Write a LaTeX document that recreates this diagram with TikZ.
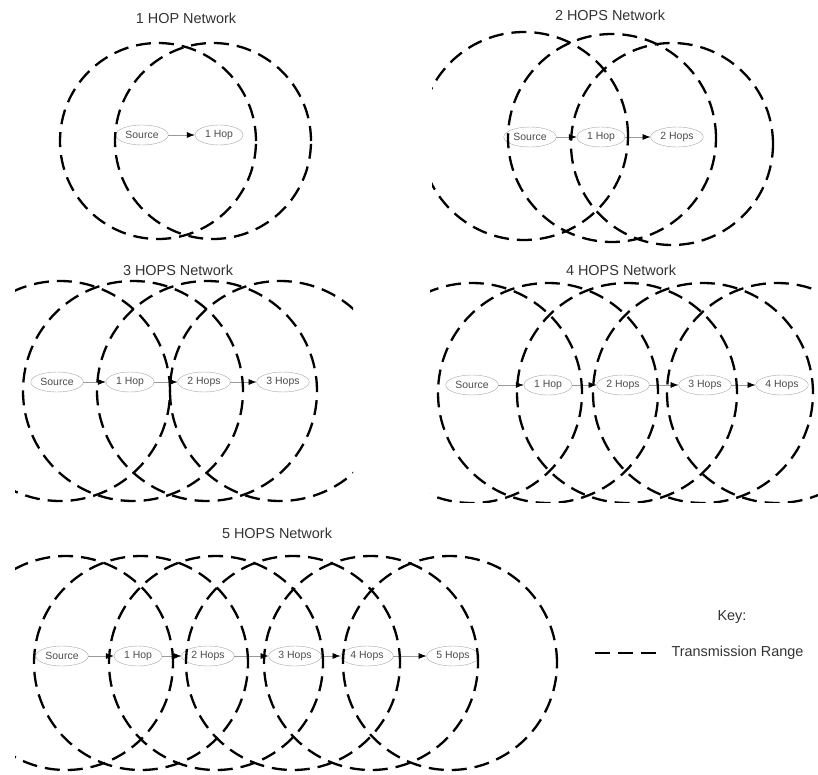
\documentclass[tikz,border=0pt]{standalone}
\usepackage{fontspec}
\setmainfont{Liberation Sans}
\usetikzlibrary{shapes.geometric,arrows.meta}

\begin{document}
\begin{tikzpicture}[x=1bp,y=-1bp,
    txrange/.style={draw=black, line width=2.3bp, dash pattern=on 15bp off 8bp},
    hop/.style={ellipse, draw=gray!70, text=black!70, font=\fontsize{10.5}{12}\selectfont,
      inner xsep=2bp, inner ysep=1bp, minimum width=48bp, minimum height=20bp},
    hoplink/.style={draw=gray!80, line width=0.6bp, -{Latex[length=8bp,width=6bp,color=black]}},
    netlabel/.style={text=black!80, font=\fontsize{14.5}{17}\selectfont}]

    \useasboundingbox (0,0) rectangle (818,775);

    % 1 hop network
    \node[netlabel] (t1) at (186,18) {1 HOP Network};
    \foreach \x/\lbl [count=\i from 0] in {142/Source,219/1 Hop}
      \node[hop] (a\i) at (\x,135) {\lbl};
    \draw[hoplink] (a0) -- (a1);
    \foreach \x in {158,213}
      \draw[txrange] (\x,141) circle (98bp);

    % 2 hops network
    \node[netlabel] (t2) at (610,15) {2 HOPS Network};
    \foreach \x/\lbl [count=\i from 0] in {530/Source,601/1 Hop,677/2 Hops}
      \node[hop] (b\i) at (\x,137) {\lbl};
    \draw[hoplink] (b0) -- (b1);
    \draw[hoplink] (b1) -- (b2);
    \begin{scope}
      \clip (432,0) rectangle (818,260);
      \foreach \x/\y/\rad in {524/136/104,612/138/104,672/144/101}
        \draw[txrange] (\x,\y) circle (\rad bp);
    \end{scope}

    % 3 hops network
    \node[netlabel] (t3) at (178,270) {3 HOPS Network};
    \foreach \x/\lbl [count=\i from 0] in {57/Source,130/1 Hop,204/2 Hops,283/3 Hops}
      \node[hop] (c\i) at (\x,382) {\lbl};
    \foreach \i [evaluate=\i as \j using int(\i+1)] in {0,...,2}
      \draw[hoplink] (c\i) -- (c\j);
    \begin{scope}
      \clip (15,275) rectangle (353,502);
      \foreach \x in {60,133,207,280}
        \draw[txrange] (\x,391) circle (110bp);
    \end{scope}

    % 4 hops network
    \node[netlabel] (t4) at (621,270) {4 HOPS Network};
    \foreach \x/\lbl [count=\i from 0] in {472/Source,548/1 Hop,623/2 Hops,705/3 Hops,782/4 Hops}
      \node[hop] (d\i) at (\x,385) {\lbl};
    \foreach \i [evaluate=\i as \j using int(\i+1)] in {0,...,3}
      \draw[hoplink] (d\i) -- (d\j);
    \begin{scope}
      \clip (430,275) rectangle (818,502);
      \foreach \x in {472,548,627,703,777}
        \draw[txrange] (\x,393) circle (110bp);
    \end{scope}

    % 5 hops network
    \node[netlabel] (t5) at (277,533) {5 HOPS Network};
    \foreach \x/\lbl [count=\i from 0] in {62/Source,138/1 Hop,208/2 Hops,295/3 Hops,367/4 Hops,453/5 Hops}
      \node[hop] (e\i) at (\x,656) {\lbl};
    \foreach \i [evaluate=\i as \j using int(\i+1)] in {0,...,4}
      \draw[hoplink] (e\i) -- (e\j);
    \begin{scope}
      \clip (15,540) rectangle (818,775);
      \foreach \x in {66,141,216,293,371,450}
        \draw[txrange] (\x,663) circle (107bp);
    \end{scope}

    % key
    \node[netlabel] (key) at (732,617) {Key:};
    \coordinate (k0) at (595,653);
    \coordinate (k1) at (662,653);
    \draw[txrange] (k0) -- (k1);
    \node[netlabel, anchor=west] (trange) at (668,653) {Transmission Range};
  \end{tikzpicture}
\end{document}
